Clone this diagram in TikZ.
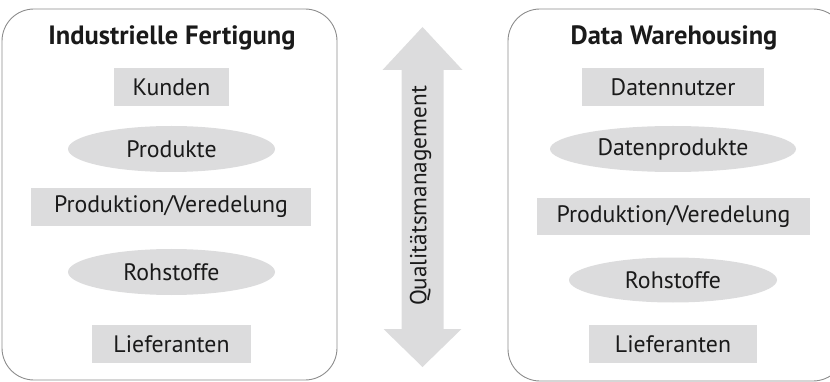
\documentclass[tikz,border=0pt]{standalone}
\usepackage{fontspec}
\setmainfont{PT Sans}
\usetikzlibrary{shapes.geometric}
\definecolor{boxgray}{HTML}{DCDCDD}
\definecolor{framegray}{HTML}{8C8C8C}
\definecolor{txt}{HTML}{1A1A1A}
\tikzset{
  frame/.style={draw=framegray, line width=0.9pt, rounded corners=32pt},
  title/.style={font=\bfseries\fontsize{26.5}{30}\selectfont, text=txt, inner sep=0pt},
  rectbox/.style={rectangle, fill=boxgray, inner sep=0pt, minimum height=38pt, font=\fontsize{23.8}{27}\selectfont, text=txt},
  ellbox/.style={ellipse, fill=boxgray, inner sep=0pt, minimum height=46pt, font=\fontsize{23.8}{27}\selectfont, text=txt},
  arrowshape/.style={fill=boxgray},
  arrowlabel/.style={font=\fontsize{23.2}{26}\selectfont, text=txt, rotate=90, inner sep=0pt}
}
\begin{document}
\begin{tikzpicture}[x=1pt,y=-1pt]
\useasboundingbox (0,0) rectangle (830,382);
\clip (0,0) rectangle (830,382);
% frames
\draw[frame] (2,9) rectangle (337,380);
\draw[frame] (508,9) rectangle (845,381);
% left column
\node[title] (t1) at (172,38) {Industrielle Fertigung};
\node[rectbox, minimum width=115pt] (kunden) at (171.5,87) {Kunden};
\node[ellbox, minimum width=207pt] (produkte) at (171.5,149) {Produkte};
\node[rectbox, minimum width=280pt] (prod1) at (171,207) {Produktion/Veredelung};
\node[ellbox, minimum width=207pt] (roh1) at (171.5,272) {Rohstoffe};
\node[rectbox, minimum width=159pt] (lief1) at (171.5,344) {Lieferanten};
% right column
\node[title] (t2) at (674,38) {Data Warehousing};
\node[rectbox, minimum width=182pt] (nutzer) at (673,87) {Datennutzer};
\node[ellbox, minimum width=246pt] (datprod) at (673,149) {Datenprodukte};
\node[rectbox, minimum width=273pt, minimum height=37pt] (prod2) at (673.5,216.5) {Produktion/Veredelung};
\node[ellbox, minimum width=208pt, minimum height=45pt] (roh2) at (673,280) {Rohstoffe};
\node[rectbox, minimum width=168pt] (lief2) at (673,344) {Lieferanten};
% double arrow
\fill[arrowshape] (422.5,27) -- (462.5,70) -- (443.5,70) -- (443.5,329) -- (461.5,329)
  -- (422.5,367) -- (383.5,329) -- (401.5,329) -- (401.5,70) -- (382.5,70) -- cycle;
\node[arrowlabel] (qm) at (420.5,196) {Qualitätsmanagement};
\end{tikzpicture}
\end{document}
